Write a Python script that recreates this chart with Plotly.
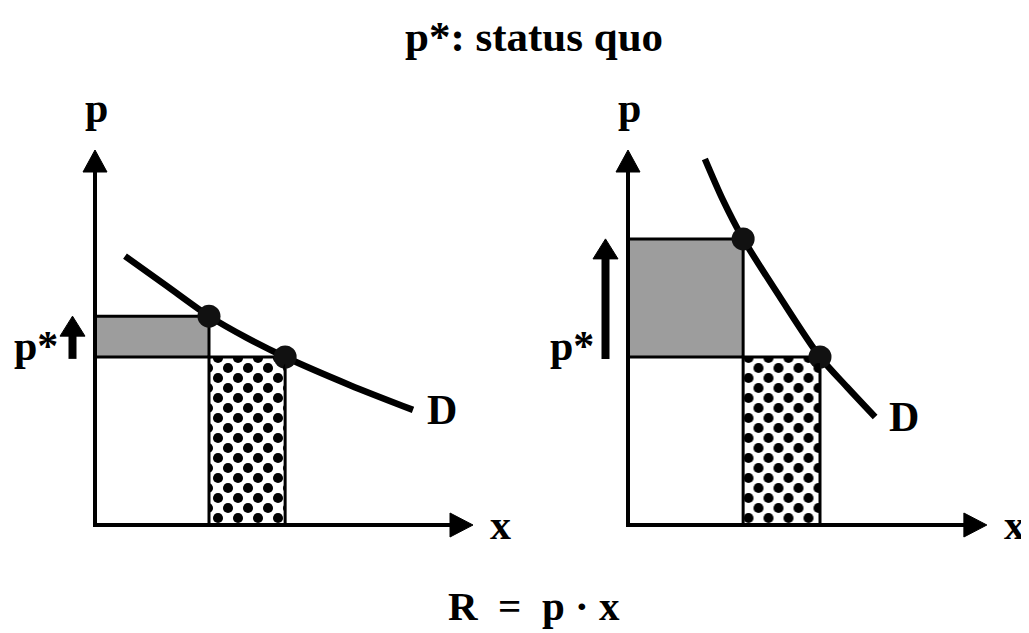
import plotly.graph_objects as go

# ---------------- data (in panel units) ----------------
# Left panel: flatter demand curve D
L_curve_x = [0.80, 1.92, 3.04, 4.05, 5.07, 6.80, 8.48]
L_curve_y = [7.17, 6.37, 5.57, 4.99, 4.48, 3.73, 3.07]
L_prices = [4.48, 5.57]          # p* (status quo), raised price
L_quantities = [5.07, 3.04]      # x at p*, x at raised price
L_axis_len = [10.08, 10.0]       # x-axis, p-axis

# Right panel: steeper demand curve D
R_curve_x = [2.05, 2.53, 3.07, 4.05, 5.12, 5.84, 6.59]
R_curve_y = [9.76, 8.67, 7.63, 6.08, 4.48, 3.68, 2.88]
R_prices = [4.48, 7.63]
R_quantities = [5.12, 3.07]
R_axis_len = [9.57, 10.0]

title_text = "p*: status quo"
formula_text = "R\u00a0\u00a0=\u00a0\u00a0p\u00a0\u00b7\u00a0x"
axis_labels = ["x", "p"]
curve_label = "D"
price_label = "p*"

# ---------------- layout constants ----------------
PAGE_OFF = 8                     # default body margin of the html page
W, H = 1029 - PAGE_OFF, 633 - PAGE_OFF
S = 37.5                         # pixels per unit
ORIG = {"L": (95 - PAGE_OFF, 525 - PAGE_OFF), "R": (628 - PAGE_OFF, 525 - PAGE_OFF)}
PANEL_DOM = {"L": (0, W / 2), "R": (W / 2, W)}
SHIFT = 10                       # px offset for the staggered dot layer
FONT = "Liberation Serif, Times New Roman, serif"
GRAY = "#9d9d9d"

fig = go.Figure()
layout_axes = {}
axes_ids = {"L": ("x", "y", "x3", "y3"), "R": ("x2", "y2", "x4", "y4")}


def axis_pair(xid, yid, x0px, x1px, y0px, y1px, ox, oy):
    base = dict(visible=False, fixedrange=True)
    layout_axes["xaxis" + xid[1:]] = dict(base, domain=[x0px / W, x1px / W],
                                          range=[(x0px - ox) / S, (x1px - ox) / S], anchor=yid)
    layout_axes["yaxis" + yid[1:]] = dict(base, domain=[1 - y1px / H, 1 - y0px / H],
                                          range=[(oy - y1px) / S, (oy - y0px) / S], anchor=xid)


for key, (xa, ya, xb, yb) in axes_ids.items():
    ox, oy = ORIG[key]
    d0, d1 = PANEL_DOM[key]
    axis_pair(xa, ya, d0, d1, 0, H, ox, oy)
    axis_pair(xb, yb, d0 + SHIFT, d1, SHIFT, H, ox, oy)


def head(tx, ty, direction, length_px, width_px):
    l, w = length_px / S, width_px / S
    if direction == "up":
        return [tx - w / 2, tx + w / 2, tx, tx - w / 2], [ty - l, ty - l, ty, ty - l]
    return [tx - l, tx - l, tx, tx - l], [ty - w / 2, ty + w / 2, ty, ty - w / 2]


def solid(x, y, ref):
    fig.add_trace(go.Scatter(x=x, y=y, mode="lines", fill="toself", fillcolor="black",
                             line=dict(color="black", width=1), hoverinfo="skip", **ref))


def panel(key, cx, cy, prices, quants, axis_len, label_dx):
    xa, ya, xb, yb = axes_ids[key]
    p_low, p_high = prices
    q_low_p, q_high_p = quants
    ax_x, ax_y = axis_len
    ref = dict(xaxis=xa, yaxis=ya)

    # dotted rectangle (two staggered dot layers)
    rx = [q_high_p, q_low_p, q_low_p, q_high_p, q_high_p]
    ry = [0, 0, p_low, p_low, 0]
    pat = dict(shape=".", size=20, solidity=0.2, fgcolor="black", fgopacity=1, fillmode="replace")
    fig.add_trace(go.Scatter(x=rx, y=ry, mode="none", fill="toself", fillcolor="black",
                             fillpattern=pat, hoverinfo="skip", **ref))
    fig.add_trace(go.Scatter(x=rx, y=ry, mode="none", fill="toself", fillcolor="black",
                             fillpattern=pat, hoverinfo="skip", xaxis=xb, yaxis=yb))
    # gray rectangle
    gx = [0, q_high_p, q_high_p, 0, 0]
    gy = [p_low, p_low, p_high, p_high, p_low]
    fig.add_trace(go.Scatter(x=gx, y=gy, mode="lines", fill="toself", fillcolor=GRAY,
                             line=dict(color="black", width=3), hoverinfo="skip", **ref))
    fig.add_trace(go.Scatter(x=rx, y=ry, mode="lines", line=dict(color="black", width=3),
                             hoverinfo="skip", **ref))
    # axes with arrowheads
    fig.add_trace(go.Scatter(x=[0, 0, ax_x - 0.3], y=[ax_y - 0.3, 0, 0], mode="lines",
                             line=dict(color="black", width=4), hoverinfo="skip", **ref))
    solid(*head(0, ax_y, "up", 22, 24), ref)
    solid(*head(ax_x, 0, "right", 23, 24), ref)
    # demand curve and the two price/quantity points
    fig.add_trace(go.Scatter(x=cx, y=cy, mode="lines",
                             line=dict(color="black", width=6.5, shape="spline", smoothing=0.8),
                             hoverinfo="skip", **ref))
    fig.add_trace(go.Scatter(x=[q_high_p, q_low_p], y=[p_high, p_low], mode="markers",
                             marker=dict(color="#111111", size=23), cliponaxis=False,
                             hoverinfo="skip", **ref))
    # price-rise arrow
    axp = -0.6
    hlen = 20
    fig.add_trace(go.Scatter(x=[axp, axp], y=[p_low - 0.05, p_high - hlen / S + 0.05], mode="lines",
                             line=dict(color="black", width=8), hoverinfo="skip", **ref))
    solid(*head(axp, p_high, "up", hlen, 25), ref)

    # labels
    fsz = 42
    f = dict(family=FONT, size=fsz, color="black")
    common = dict(xref=xa, yref=ya, showarrow=False, font=f, xanchor="center", yanchor="middle")
    fig.add_annotation(x=0.05, y=ax_y + 1.12, text="<b>%s</b>" % axis_labels[1], **common)
    fig.add_annotation(x=ax_x + 0.73, y=0.0, text="<b>%s</b>" % axis_labels[0], **common)
    fig.add_annotation(x=cx[-1] + 0.77, y=cy[-1], text="<b>%s</b>" % curve_label, **common)
    fig.add_annotation(x=label_dx, y=p_low + 0.3, text="<b>%s</b>" % price_label, **common)


panel("L", L_curve_x, L_curve_y, L_prices, L_quantities, L_axis_len, -1.58)
panel("R", R_curve_x, R_curve_y, R_prices, R_quantities, R_axis_len, -1.50)

fig.add_annotation(x=(534 - PAGE_OFF) / W, y=1 - (37 - PAGE_OFF) / H, xref="paper", yref="paper",
                   text="<b>%s</b>" % title_text, showarrow=False, xanchor="center", yanchor="middle",
                   font=dict(family=FONT, size=43, color="black"))
fig.add_annotation(x=(534 - PAGE_OFF) / W, y=1 - (606 - PAGE_OFF) / H, xref="paper", yref="paper",
                   text="<b>%s</b>" % formula_text, showarrow=False, xanchor="center", yanchor="middle",
                   font=dict(family=FONT, size=41, color="black"))

fig.update_layout(width=W, height=H, margin=dict(l=0, r=0, t=0, b=0), showlegend=False,
                  paper_bgcolor="white", plot_bgcolor="rgba(0,0,0,0)", **layout_axes)

fig.write_html("out.html", config={"displayModeBar": False})
